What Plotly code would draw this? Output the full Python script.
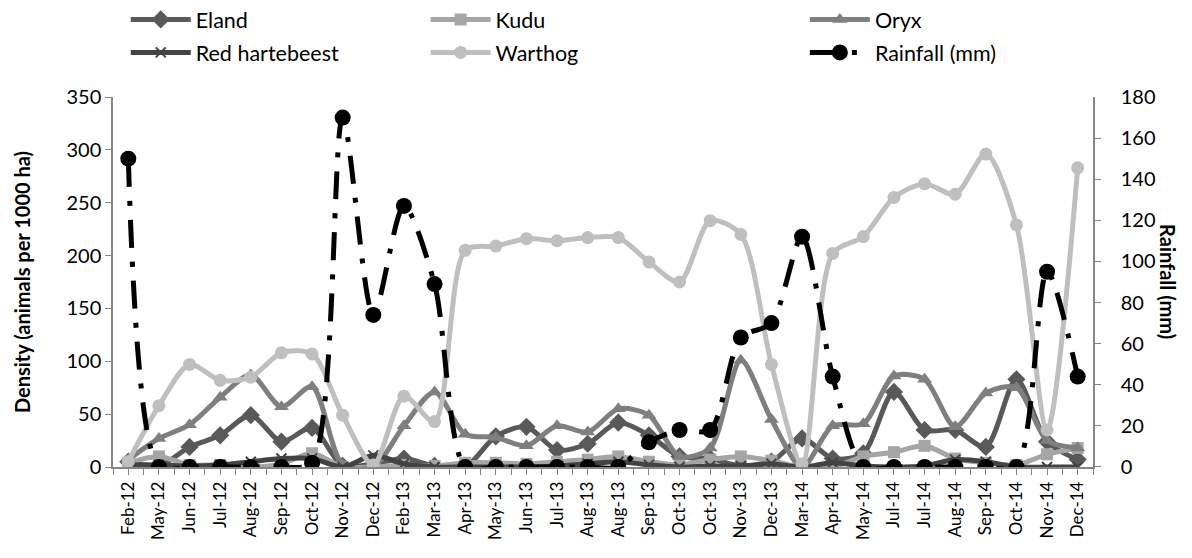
import plotly.graph_objects as go
from plotly.subplots import make_subplots

categories = ["Feb-12", "May-12", "Jun-12", "Jul-12", "Aug-12", "Sep-12", "Oct-12", "Nov-12",
              "Dec-12", "Feb-13", "Mar-13", "Apr-13", "May-13", "Jun-13", "Jul-13", "Aug-13",
              "Aug-13", "Sep-13", "Oct-13", "Oct-13", "Nov-13", "Dec-13", "Mar-14", "Apr-14",
              "May-14", "Jul-14", "Jul-14", "Aug-14", "Sep-14", "Oct-14", "Nov-14", "Dec-14"]

eland = [5, 1, 19, 30, 49, 24, 37, 1, 3, 8, 1, 0, 29, 38, 16, 22, 42, 30, 10, 8, 1, 5, 27, 8,
         13, 71, 35, 35, 19, 83, 24, 7]
kudu = [4, 10, 2, 2, 0, 3, 13, 0, 0, 2, 1, 4, 4, 3, 5, 7, 10, 5, 2, 7, 10, 6, 0, 0,
        10, 14, 20, 8, 4, 2, 12, 18]
oryx = [7, 27, 40, 66, 87, 57, 76, 2, 0, 39, 71, 31, 28, 20, 39, 33, 55, 49, 10, 18, 101, 45, 0, 39,
        41, 86, 83, 38, 70, 75, 25, 18]
red_hartebeest = [2, 2, 1, 2, 5, 8, 8, 0, 11, 3, 0, 0, 0, 0, 1, 3, 5, 2, 0, 1, 1, 3, 0, 4,
                  1, 0, 1, 7, 5, 0, 0, 0]
warthog = [5, 58, 97, 82, 85, 108, 107, 49, 2, 67, 43, 205, 209, 216, 214, 217, 217, 194, 175, 233,
           220, 97, 3, 202, 218, 255, 268, 258, 296, 229, 35, 283]
rainfall = [150, 0, 0, 0, 0, 0, 2, 170, 74, 127, 89, 0, 0, 0, 0, 0, 0, 12, 18, 18, 63, 70, 112, 44,
            0, 0, 0, 0, 0, 0, 95, 44]
rain_ticks = [0, 20, 40, 60, 80, 100, 120, 140, 160, 180]

x = list(range(len(categories)))
FONT = "Lato"

fig = make_subplots(specs=[[{"secondary_y": True}]])

def add_series(name, y, color, symbol, size, legend, mline=None):
    fig.add_trace(go.Scatter(
        x=x, y=y, name=name, mode="lines+markers", legendgroup=name,
        line=dict(color=color, width=5, shape="spline", smoothing=0.8),
        marker=dict(symbol=symbol, size=size, color=color,
                    line=dict(width=mline[0], color=mline[1]) if mline else dict(width=0)),
        legend=legend), secondary_y=False)

add_series("Eland", eland, "#595959", "diamond", 14, "legend")
add_series("Kudu", kudu, "#a5a5a5", "square", 12, "legend2")
add_series("Oryx", oryx, "#7f7f7f", "triangle-up", 13, "legend3")
add_series("Red hartebeest", red_hartebeest, "#434343", "x-thin", 10, "legend", (2, "#434343"))
add_series("Warthog", warthog, "#bfbfbf", "circle", 13, "legend2")

fig.add_trace(go.Scatter(
    x=x, y=rainfall, name="Rainfall (mm)", mode="lines+markers", legendgroup="rain",
    line=dict(color="black", width=5, shape="spline", smoothing=0.8, dash="28px,14px,5px,14px"),
    marker=dict(symbol="circle", size=16, color="black"),
    legend="legend3"), secondary_y=True)

axis_col = "#868686"
legend_common = dict(orientation="v", xanchor="left", yanchor="top",
                     font=dict(family=FONT, size=21.5, color="black"),
                     bgcolor="rgba(0,0,0,0)", tracegroupgap=2, itemwidth=60)
LEG_Y = 1.265

fig.update_layout(
    width=1184, height=550,
    margin=dict(l=105, r=99, t=89, b=91, autoexpand=False),
    plot_bgcolor="white", paper_bgcolor="white",
    font=dict(family=FONT, size=20, color="black"),
    legend=dict(x=0.013, y=LEG_Y, **legend_common),
    legend2=dict(x=0.319, y=LEG_Y, **legend_common),
    legend3=dict(x=0.706, y=LEG_Y, **legend_common),
    annotations=[dict(text="<b>Rainfall (mm)</b>", xref="paper", yref="paper",
                      x=1.0765, y=0.5, xanchor="center", yanchor="middle",
                      textangle=90, showarrow=False,
                      font=dict(family=FONT, size=20, color="black"))],
)

fig.update_xaxes(
    domain=[0, 1],
    range=[-0.5, len(categories) - 0.5],
    tickmode="array", tickvals=x, ticktext=categories, tickangle=-90,
    tickfont=dict(family=FONT, size=17, color="black"),
    showline=True, linecolor=axis_col, linewidth=1.5,
    ticks="outside", ticklen=6, tickcolor=axis_col,
    minor=dict(ticks="outside", tickvals=[i - 0.5 for i in x] + [len(x) - 0.5],
               ticklen=6, tickcolor=axis_col),
    showgrid=False, zeroline=False,
)
fig.update_yaxes(
    range=[0, 350], dtick=50, tick0=0,
    title=dict(text="Density (animals per 1000 ha)",
               font=dict(family=FONT, size=20, color="black", weight="bold"), standoff=30),
    tickfont=dict(family=FONT, size=20, color="black"),
    showline=True, linecolor=axis_col, linewidth=1.5,
    ticks="outside", ticklen=6, tickcolor=axis_col,
    showgrid=False, zeroline=False, secondary_y=False,
)
fig.update_yaxes(
    range=[0, 180], tickmode="array", tickvals=rain_ticks,
    tickfont=dict(family=FONT, size=20, color="black"),
    showline=True, linecolor=axis_col, linewidth=1.5,
    ticks="outside", ticklen=22, tickcolor="rgba(0,0,0,0)",
    minor=dict(ticks="outside", tickmode="array", tickvals=[v + 0.02 for v in rain_ticks],
               ticklen=6, tickcolor=axis_col),
    showgrid=False, zeroline=False, secondary_y=True,
)

fig.write_html("out.html")
